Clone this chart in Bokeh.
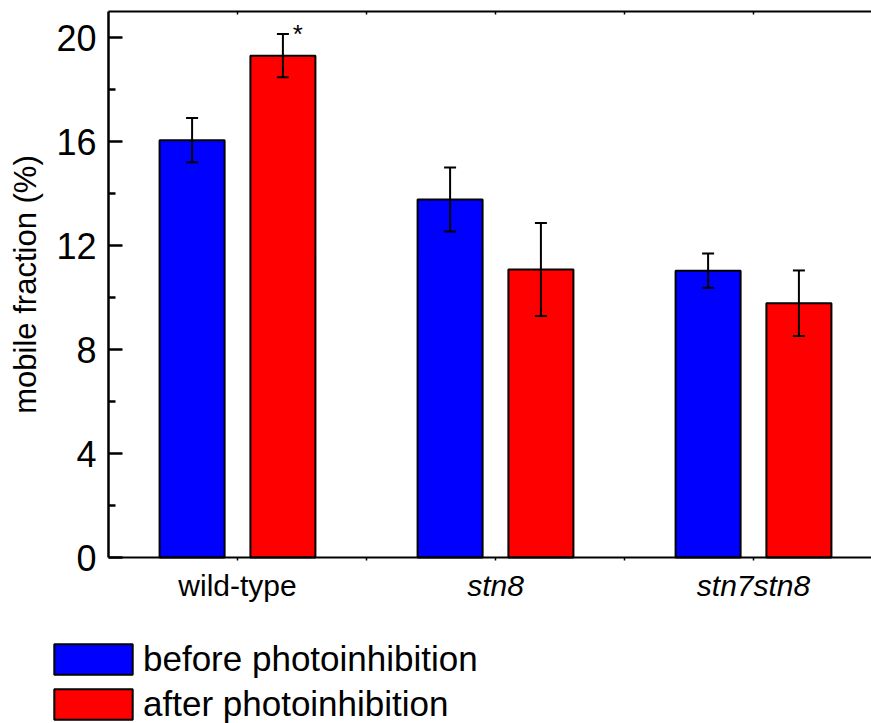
from bokeh.plotting import figure
from bokeh.models import (Range1d, LinearAxis, FixedTicker, ColumnDataSource,
                          Whisker, TeeHead, Legend, LegendItem,
                          CustomJSTickFormatter)
from bokeh.embed import file_html
from bokeh.resources import INLINE
from bokeh.core.properties import value

# --- data -------------------------------------------------------------
groups = ["wild-type", "stn8", "stn7stn8"]
group_italic = [False, True, True]
before_mean = [16.05, 13.77, 11.03]
before_err = [0.85, 1.23, 0.66]
after_mean = [19.30, 11.08, 9.78]
after_err = [0.83, 1.79, 1.26]
after_marks = ["*", "", ""]
series_names = ["before photoinhibition", "after photoinhibition"]
series_colors = ["#0000ff", "#ff0000"]
y_ticks = [0, 4, 8, 12, 16, 20]
y_minor = [2, 6, 10, 14, 18]
Y_MAX = 21

FONT = "Liberation Sans"
BAR_W = 0.252
OFFSET = 0.176

# canvas geometry (pixels); the frame fills the whole canvas and the axes
# are pinned to the data region so the key can sit underneath it
W, H = 871, 723
AX_LEFT, AX_TOP, AX_BOTTOM = 108, 11, 557
px_x = 258                                  # pixels per group
px_y = (AX_BOTTOM - AX_TOP) / Y_MAX         # pixels per percent

centers = [i + 1 for i in range(len(groups))]
x_ticks = sorted(centers + [c + 0.5 for c in centers[:-1]])
x0 = 0.5
x_end = x0 + (W - AX_LEFT) / px_x

p = figure(width=W, height=H, output_backend="svg", toolbar_location=None,
           x_range=Range1d(x0 - AX_LEFT / px_x, x_end),
           y_range=Range1d(-(H - AX_BOTTOM) / px_y, Y_MAX + AX_TOP / px_y),
           min_border_left=0, min_border_right=0, min_border_top=0,
           min_border_bottom=0)
p.outline_line_color = None
p.xgrid.visible = False
p.ygrid.visible = False
p.background_fill_color = "white"
p.border_fill_color = "white"

bar_style = dict(line_color="black", line_width=2)
legend_items = []
for k, (means, errs) in enumerate([(before_mean, before_err), (after_mean, after_err)]):
    sign = -1 if k == 0 else 1
    xs = [c + sign * OFFSET for c in centers]
    src = ColumnDataSource(dict(
        x=xs, top=means,
        upper=[m + e for m, e in zip(means, errs)],
        lower=[m - e for m, e in zip(means, errs)],
    ))
    r = p.vbar(x="x", top="top", width=BAR_W, bottom=0, source=src,
               fill_color=series_colors[k], **bar_style)
    legend_items.append(LegendItem(label=series_names[k], renderers=[r]))
    w = Whisker(base="x", upper="upper", lower="lower", source=src,
                dimension="height", line_width=2, line_color="black",
                level="overlay",
                upper_head=TeeHead(size=12, line_width=2, line_color="black"),
                lower_head=TeeHead(size=12, line_width=2, line_color="black"))
    p.add_layout(w)
    if k == 1:
        marks = ColumnDataSource(dict(
            x=[x for x, m in zip(xs, after_marks) if m],
            y=[u for u, m in zip(src.data["upper"], after_marks) if m],
            text=[m for m in after_marks if m],
        ))
        p.text(x="x", y="y", text="text", source=marks, x_offset=15, y_offset=0,
               text_align="center", text_baseline="alphabetic",
               text_font=value(FONT), text_font_size="26px", text_color="black")

blank = CustomJSTickFormatter(code="return ''")

# left axis, pinned at the left edge of the bar region
ya = p.yaxis[0]
ya.fixed_location = x0
ya.bounds = (0, Y_MAX)
ya.ticker = FixedTicker(ticks=y_ticks, minor_ticks=y_minor)
ya.axis_line_width = 2.5
ya.major_tick_line_width = 2.5
ya.minor_tick_line_width = 2.5
ya.major_tick_in = 14
ya.major_tick_out = 0
ya.minor_tick_in = 7
ya.minor_tick_out = 0
ya.major_label_standoff = 12
ya.major_label_text_font = FONT
ya.major_label_text_font_size = "36px"
ya.major_label_text_color = "black"
ya.axis_label = "mobile fraction (%)"
ya.axis_label_text_font = FONT
ya.axis_label_text_font_size = "31px"
ya.axis_label_text_font_style = "normal"
ya.axis_label_text_color = "black"
ya.axis_label_standoff = 10

# bottom axis at zero: small ticks only, group names drawn below as text
xa = p.xaxis[0]
xa.fixed_location = 0
xa.bounds = (x0, x_end)
xa.ticker = FixedTicker(ticks=x_ticks)
xa.formatter = blank
xa.axis_line_width = 2
xa.major_tick_line_width = 1.5
xa.major_tick_in = 0
xa.major_tick_out = 3
xa.minor_tick_in = 0
xa.minor_tick_out = 0
xa.major_label_standoff = 0

# top frame line
top = LinearAxis(fixed_location=Y_MAX, bounds=(x0, x_end),
                 ticker=FixedTicker(ticks=x_ticks), formatter=blank,
                 axis_line_width=2, major_tick_line_width=1.5,
                 major_tick_in=3, major_tick_out=0,
                 minor_tick_in=0, minor_tick_out=0, major_label_standoff=0)
p.add_layout(top, "above")

names = ColumnDataSource(dict(
    x=centers, y=[0] * len(groups), text=groups,
    style=["italic" if it else "normal" for it in group_italic],
))
p.text(x="x", y="y", text="text", source=names, text_font_style="style",
       y_offset=28, text_align="center", text_baseline="alphabetic",
       text_font=value(FONT), text_font_size="30px", text_color="black")

# the swatch is inset by 10% of the glyph box on every side
legend = Legend(items=legend_items, location=(44, -1), orientation="vertical",
                glyph_width=98, glyph_height=38, label_height=38,
                label_standoff=1, spacing=5, padding=0, margin=0,
                label_text_font=FONT, label_text_font_size="35px",
                label_text_color="black", border_line_color=None,
                background_fill_alpha=0)
p.add_layout(legend)

open("out.html", "w").write(file_html(p, INLINE))
